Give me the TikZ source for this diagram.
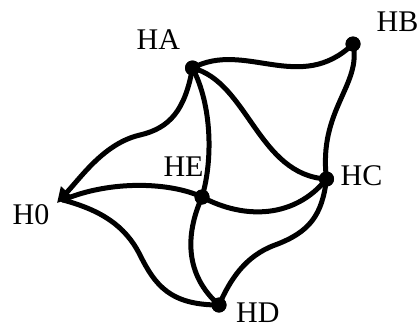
\documentclass[tikz,border=0pt]{standalone}
\usepackage{fontspec}
\setmainfont{Liberation Serif}
\usetikzlibrary{arrows.meta}
\begin{document}
\begin{tikzpicture}[x=1pt,y=-1pt,
  edge/.style={line width=5pt,line cap=round},
  dot/.style={circle,fill=black,inner sep=0pt,minimum size=15pt},
  lab/.style={anchor=base west,inner sep=0pt,font=\fontsize{30}{36}\selectfont}]
\useasboundingbox (0,0) rectangle (419,325);
% nodes
\node[dot] (HA) at (192.5,68) {};
\node[dot] (HB) at (353,44) {};
\node[dot] (HC) at (326.5,179) {};
\node[dot] (HE) at (202,197) {};
\node[dot] (HD) at (219,305) {};
\coordinate (H0) at (57,203);
\coordinate (H0s) at (63,200);
% labels
\node[lab] (lHA) at (136.5,49.3) {HA};
\node[lab] (lHB) at (376.5,31.7) {HB};
\node[lab] (lHC) at (340.5,185) {HC};
\node[lab] (lHE) at (163.3,176.7) {HE};
\node[lab] (lH0) at (12.5,224.5) {H0};
\node[lab] (lHD) at (236,322) {HD};
% edges
\draw[edge] (HA.center) .. controls (245,40) and (300,95) .. (HB.center);
\draw[edge] (HB.center) .. controls (362,85) and (318,110) .. (HC.center);
\draw[edge] (HA.center) .. controls (248,82) and (258,175) .. (HC.center);
\draw[edge] (HA.center) .. controls (212,105) and (213,160) .. (HE.center);
\draw[edge,-{Triangle[length=15pt,width=16pt]}] (HA.center) .. controls (185,110) and (170,128) .. (140,135)
      .. controls (105,143) and (82,176) .. (H0);
\draw[edge] (H0s) .. controls (110,180) and (170,182) .. (HE.center);
\draw[edge] (HE.center) .. controls (245,220) and (295,218) .. (HC.center);
\draw[edge] (HE.center) .. controls (185,235) and (185,275) .. (HD.center);
\draw[edge] (H0s) .. controls (100,210) and (125,225) .. (140,255)
      .. controls (155,285) and (170,305) .. (HD.center);
\draw[edge] (HC.center) .. controls (322,215) and (310,232) .. (275,245)
      .. controls (245,256) and (230,280) .. (HD.center);
% redraw dots on top
\foreach \n in {HA,HB,HC,HE,HD} \fill (\n.center) circle (7.5pt);
\end{tikzpicture}
\end{document}
